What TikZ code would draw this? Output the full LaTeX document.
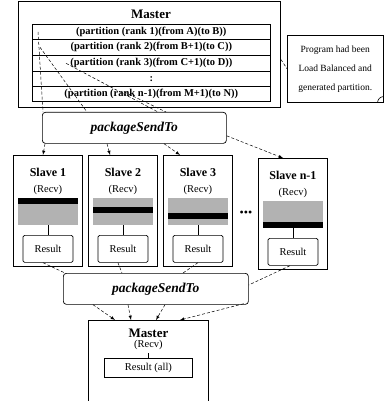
\documentclass[tikz,border=0pt]{standalone}
\usepackage{fontspec}
\setmainfont{Liberation Serif}
\usetikzlibrary{arrows,calc}
\tikzset{>=latex}
\tikzset{box/.style={draw, line width=0.9pt, inner sep=0pt},
  row/.style={draw, line width=0.6pt, minimum width=238pt, inner sep=0pt,
    font=\bfseries\fontsize{10.5}{11}\selectfont},
  link/.style={densely dashed, line width=0.5pt},
  sendbox/.style={draw, line width=0.7pt, rounded corners=3pt,
    minimum height=31pt, font=\bfseries\itshape\fontsize{13.5}{14}\selectfont},
  title/.style={font=\bfseries\fontsize{13}{14}\selectfont},
  small/.style={font=\fontsize{10.5}{11}\selectfont},
  bar/.style={fill=gray!60, minimum width=60pt, minimum height=27pt, inner sep=0pt},
  resbox/.style={draw, line width=0.7pt, rounded corners=1.5pt,
    minimum width=50pt, minimum height=27pt, font=\fontsize{10.5}{11}\selectfont}}

\begin{document}
\begin{tikzpicture}[x=1pt,y=-1pt]
  \useasboundingbox (0,0) rectangle (386,401);
  % master with its partition table
  \node[box, minimum width=262pt, minimum height=106pt, anchor=north west]
    (master) at (18,1) {};
  \node[title] at (151,14) {Master};
  \node[row, minimum height=15pt, anchor=north west] (r1) at (32,24)
    {(partition (rank 1)(from A)(to B))};
  \node[row, minimum height=16pt, anchor=north west] (r2) at (32,39)
    {(partition (rank 2)(from B+1)(to C))};
  \node[row, minimum height=16pt, anchor=north west] (r3) at (32,55)
    {(partition (rank 3)(from C+1)(to D))};
  \node[row, minimum height=15pt, anchor=north west] (r4) at (32,71) {:};
  \node[row, minimum height=15pt, anchor=north west] (r5) at (32,86)
    {(partition (rank n-1)(from M+1)(to N))};
  % note
  \node[draw, line width=0.5pt, minimum width=96pt, minimum height=67pt,
    anchor=north west, align=center, font=\fontsize{9.5}{19}\selectfont]
    (note) at (287,35) {Program had been\\Load Balanced and\\generated partition.};
  \draw[line width=0.6pt] ([xshift=-6pt]note.south east) to[bend left=40]
    ([yshift=6pt]note.south east);
  \draw[link] ([yshift=-5pt]master.east) -- (note.west);
  % first send
  \node[sendbox, minimum width=184pt, anchor=north west] (send) at (42,112)
    {packageSendTo};
  \draw[link] ([xshift=6pt]r1.west) -- ([xshift=1pt]send.north west);
  \draw[link] ([xshift=8pt]r2.west) -- ([xshift=45pt]send.north west);
  \draw[link] ([xshift=34pt]r3.west) -- ([xshift=116pt]send.north west);
  \draw[link] ([xshift=92pt,yshift=2pt]r5.west) -- ([xshift=124pt]send.north west);
  % slaves
  \foreach \x/\y/\n/\lab/\off in {13/155/s1/Slave 1/0, 88/155/s2/Slave 2/9,
      163/155/s3/Slave 3/15, 258/158/s4/Slave n-1/21} {
    \node[box, minimum width=69pt, minimum height=111pt, anchor=north west]
      (\n) at (\x,\y) {};
    \node[title, font=\bfseries\fontsize{12}{13}\selectfont]
      at ([yshift=-17pt]\n.north) {\lab};
    \node[small] at ([yshift=-35pt]\n.north) {(Recv)};
    \node[bar, anchor=north] (\n bar) at ([yshift=-43pt]\n.north) {};
    \fill[black] ([yshift=-\off pt]\n bar.north west) rectangle ++(60pt,-6pt);
    \node[resbox, anchor=north] (\n res) at ([yshift=-80pt]\n.north) {Result};
    \draw[line width=0.5pt] (\n bar) -- (\n res);
  }
  \node[font=\fontsize{12}{12}\selectfont] (dots) at (246,214)
    {\textbullet\textbullet\textbullet};
  \draw[link,->] ([xshift=3pt]send.south west) -- ([xshift=30pt]s1.north west);
  \draw[link,->] ([xshift=65pt]send.south west) -- ([xshift=22pt]s2.north west);
  \draw[link,->] ([xshift=122pt]send.south west) -- ([xshift=17pt]s3.north west);
  \draw[link,->] ([yshift=-8pt]send.east) -- ([xshift=25pt]s4.north west);
  % second send
  \node[sendbox, minimum width=185pt, anchor=north west] (collect) at (63,273)
    {packageSendTo};
  \draw[link] ([xshift=-5pt]s1res.south) -- ([xshift=2pt]collect.north west);
  \draw[link] ([xshift=-5pt]s2res.south) -- ([xshift=59pt]collect.north west);
  \draw[link] (s3res.south) -- ([xshift=120pt]collect.north west);
  \draw[link] ([xshift=-3pt]s4res.south) -- ([yshift=-12pt]collect.north east);
  % master collecting the results
  \node[box, minimum width=120pt, minimum height=90pt, anchor=north west]
    (final) at (88,320) {};
  \node[title] at ([yshift=-13pt]final.north) {Master};
  \node[small] (recv) at ([yshift=-25pt]final.north) {(Recv)};
  \node[resbox, minimum width=88pt, minimum height=19pt, rounded corners=0pt,
    anchor=north] (all) at ([yshift=-38pt]final.north) {Result (all)};
  \draw[line width=0.5pt] (recv) -- (all);
  \draw[link,->] ([xshift=30pt]collect.south west) -- ([xshift=27pt]final.north west);
  \draw[link,->] ([xshift=65pt]collect.south west) -- ([xshift=43pt]final.north west);
  \draw[link,->] ([xshift=102pt]collect.south west) -- ([xshift=68pt]final.north west);
  \draw[link,->] ([xshift=-5pt,yshift=1pt]collect.south east) -- ([xshift=92pt]final.north west);
\end{tikzpicture}
\end{document}
